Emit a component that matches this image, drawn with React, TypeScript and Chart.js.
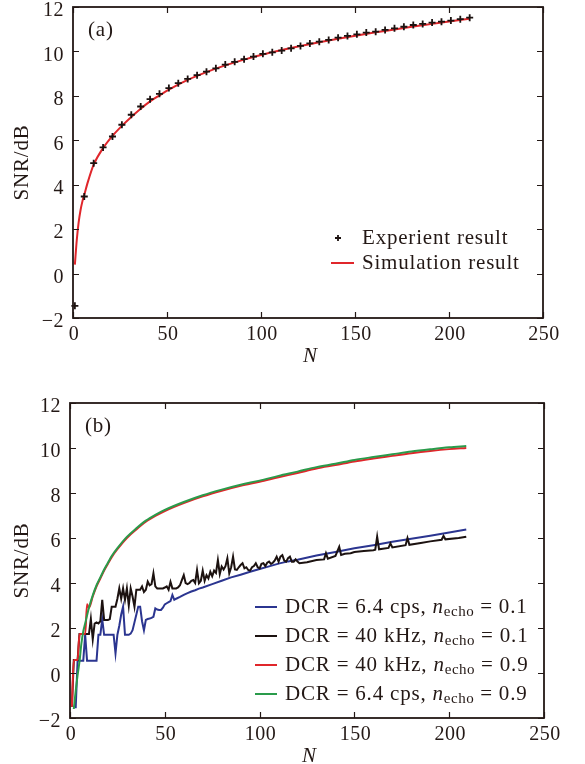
import React, { useEffect, useRef } from "react";
import { Chart, registerables } from "chart.js";
Chart.register(...registerables);

const FONT = '"Liberation Serif", "Times New Roman", serif';
const INK = "#231815";
const RED = "#e0262b";
const BLUE = "#2b3590";
const BLACK = "#1c1210";
const GREEN = "#2a9b4b";

// ---------- panel (a) ----------
const expN = [1, 6, 11, 16, 21, 26, 31, 36, 41, 46, 51, 56, 61, 66, 71, 76, 81, 86, 91, 96, 101, 106, 111, 116, 121, 126, 131, 136, 141, 146, 151, 156, 161, 166, 171, 176, 181, 186, 191, 196, 201, 206, 211];
const expSNR = [-1.45, 3.47, 4.97, 5.68, 6.17, 6.7, 7.15, 7.52, 7.85, 8.09, 8.35, 8.57, 8.76, 8.93, 9.09, 9.24, 9.41, 9.53, 9.65, 9.77, 9.89, 9.96, 10.04, 10.14, 10.25, 10.36, 10.44, 10.52, 10.62, 10.7, 10.77, 10.85, 10.89, 10.97, 11.04, 11.11, 11.19, 11.24, 11.3, 11.34, 11.39, 11.45, 11.52];
const simN = [1, 2, 3, 4, 5, 6, 8, 11, 16, 21, 26, 31, 36, 41, 46, 51, 61, 71, 81, 91, 101, 111, 121, 131, 141, 151, 161, 171, 181, 191, 201, 211];
const simSNR = [0.4, 1.5, 2.3, 2.85, 3.25, 3.55, 4.15, 4.9, 5.65, 6.2, 6.65, 7.05, 7.42, 7.75, 8.02, 8.28, 8.72, 9.07, 9.37, 9.63, 9.86, 10.06, 10.24, 10.41, 10.57, 10.72, 10.86, 10.99, 11.12, 11.24, 11.36, 11.47];

// ---------- panel (b) ----------
const blueN = [3, 4, 5, 6, 7, 8, 9, 10, 11, 12, 13, 14, 15, 16, 17, 18, 19, 20, 21, 22, 23, 24, 25, 26, 27, 28, 29, 30, 31, 32, 33, 34, 35, 36, 37, 38, 39, 40, 41, 42, 43, 44, 45, 46, 47, 48, 49, 50, 51, 52, 53, 54, 55, 56, 58, 60, 62, 64, 66, 68, 70, 75, 80, 85, 90, 95, 100, 105, 110, 115, 120, 130, 140, 150, 160, 170, 180, 190, 200, 209];
const blueSNR = [-1.57, 0.55, 0.55, 0.55, 0.55, 1.7, 0.55, 0.55, 0.55, 0.55, 0.55, 0.55, 1.7, 1.7, 2.4, 1.7, 1.7, 1.7, 1.7, 1.7, 1.7, 0.87, 1.7, 2.1, 2.6, 2.95, 1.7, 1.7, 1.7, 1.75, 1.9, 2.25, 2.6, 2.95, 2.95, 2.3, 1.9, 2.36, 2.4, 2.42, 2.45, 2.5, 2.87, 2.82, 2.8, 2.8, 2.9, 3.05, 3.1, 3.15, 3.2, 3.47, 3.25, 3.3, 3.38, 3.47, 3.55, 3.62, 3.68, 3.75, 3.8, 3.95, 4.1, 4.25, 4.37, 4.5, 4.62, 4.74, 4.86, 4.96, 5.03, 5.22, 5.38, 5.54, 5.68, 5.83, 5.97, 6.1, 6.24, 6.38];

const blackN = [1, 2, 3, 4, 5, 6, 7, 8, 9, 10, 11, 12, 13, 14, 15, 16, 17, 18, 19, 20, 21, 22, 23, 24, 25, 26, 27, 28, 29, 30, 31, 32, 33, 34, 35, 36, 37, 38, 39, 40, 41, 42, 43, 44, 45, 46, 47, 48, 49, 50, 51, 52, 53, 54, 55, 56, 57, 58, 59, 60, 61, 62, 63, 64, 65, 66, 67, 68, 69, 70, 71, 72, 73, 74, 75, 76, 77, 78, 79, 80, 81, 82, 83, 84, 85, 86, 87, 88, 89, 90, 91, 92, 93, 94, 95, 96, 97, 98, 99, 100, 101, 102, 103, 104, 105, 106, 107, 108, 109, 110, 111, 112, 113, 114, 115, 116, 117, 118, 119, 120, 121, 125, 130, 134, 135, 136, 140, 142, 143, 145, 148, 150, 155, 160, 161, 162, 163, 168, 169, 170, 177, 178, 179, 185, 190, 196, 197, 198, 205, 209];
const blackSNR = [-1.5, 0.58, 0.58, 0.58, 1.73, 1.73, 1.73, 1.73, 1.73, 1.73, 2.4, 1.5, 2.2, 2.25, 2.2, 2.3, 3.25, 2.36, 2.36, 2.36, 2.4, 2.95, 2.95, 2.95, 3.3, 3.76, 3.3, 3.76, 3.25, 3.76, 3.0, 3.76, 3.4, 2.95, 3.7, 3.7, 3.7, 3.85, 3.6, 3.7, 4.06, 3.9, 3.95, 4.43, 3.85, 3.76, 3.76, 3.76, 3.76, 3.8, 3.85, 3.7, 4.05, 3.76, 3.76, 3.76, 3.8, 3.9, 4.13, 4.35, 4.0, 3.95, 4.0, 4.1, 4.13, 4.0, 4.58, 3.99, 4.1, 4.55, 4.1, 4.35, 4.2, 4.5, 4.3, 4.55, 4.45, 5.02, 4.4, 4.73, 4.6, 4.75, 5.1, 4.43, 4.7, 5.17, 4.6, 4.58, 4.7, 4.8, 4.88, 4.65, 4.7, 4.58, 4.55, 4.7, 4.75, 4.88, 4.7, 4.65, 4.85, 4.88, 4.75, 4.9, 4.95, 4.85, 4.9, 5.0, 5.17, 4.95, 5.17, 5.24, 5.0, 4.95, 5.1, 5.17, 4.95, 4.95, 5.05, 4.95, 4.88, 4.92, 5.02, 5.05, 5.32, 5.08, 5.2, 5.61, 5.25, 5.3, 5.32, 5.38, 5.42, 5.46, 5.48, 6.06, 5.5, 5.56, 5.76, 5.58, 5.68, 6.0, 5.7, 5.78, 5.85, 5.92, 6.09, 5.94, 6.0, 6.06];

const redN = [1, 2, 3, 4, 5, 6, 7, 8, 9, 10, 12, 14, 16, 18, 20, 22, 25, 30, 35, 40, 45, 50, 60, 70, 80, 90, 100, 110, 120, 130, 140, 150, 160, 170, 180, 190, 200, 209];
const redSNR = [-1.5, 0.58, 0.58, 0.58, 1.73, 1.73, 1.73, 1.73, 3.05, 2.9, 3.4, 3.85, 4.2, 4.55, 4.85, 5.15, 5.5, 6.0, 6.38, 6.72, 6.98, 7.2, 7.55, 7.85, 8.1, 8.32, 8.5, 8.7, 8.89, 9.09, 9.24, 9.4, 9.53, 9.65, 9.77, 9.87, 9.95, 10.0];

const greenN = [2, 3, 4, 5, 6, 7, 8, 10, 12, 14, 16, 18, 20, 22, 25, 30, 35, 40, 45, 50, 60, 70, 80, 90, 100, 110, 120, 130, 140, 150, 160, 170, 180, 190, 200, 209];
const greenSNR = [-1.6, -0.8, -0.1, 0.5, 1.3, 1.85, 2.2, 2.9, 3.45, 3.9, 4.25, 4.6, 4.9, 5.2, 5.55, 6.05, 6.43, 6.77, 7.03, 7.25, 7.6, 7.9, 8.15, 8.37, 8.55, 8.76, 8.95, 9.15, 9.3, 9.47, 9.6, 9.72, 9.84, 9.94, 10.03, 10.09];

const xTicks = [0, 50, 100, 150, 200, 250];
const yTicks = [-2, 0, 2, 4, 6, 8, 10, 12];

const pts = (xs: number[], ys: number[]) => xs.map((x, i) => ({ x, y: ys[i] }));
const fmt = (v: number) => (v < 0 ? "\u2212" + Math.abs(v) : String(v));

function setFont(ctx: any, spec: string, spacing: string) {
  ctx.font = spec;
  try {
    ctx.letterSpacing = spacing;
  } catch (e) {
    /* ignore */
  }
}

function drawFrame(chart: any, panel: string) {
  const ctx = chart.ctx;
  const { left, right, top, bottom } = chart.chartArea;
  const xs = chart.scales.x;
  const ys = chart.scales.y;
  ctx.save();
  ctx.strokeStyle = INK;
  ctx.lineWidth = 1.2;
  ctx.beginPath();
  xTicks.forEach((v) => {
    const p = Math.round(xs.getPixelForValue(v)) + 0.5;
    ctx.moveTo(p, bottom);
    ctx.lineTo(p, bottom - 6);
    ctx.moveTo(p, top);
    ctx.lineTo(p, top + 6);
  });
  yTicks.forEach((v) => {
    const p = Math.round(ys.getPixelForValue(v)) + 0.5;
    ctx.moveTo(left, p);
    ctx.lineTo(left + 6, p);
    ctx.moveTo(right, p);
    ctx.lineTo(right - 6, p);
  });
  ctx.stroke();
  ctx.lineWidth = 1.8;
  ctx.strokeRect(left, top, right - left, bottom - top);

  ctx.fillStyle = INK;
  setFont(ctx, `20px ${FONT}`, "0.5px");
  ctx.textAlign = "center";
  ctx.textBaseline = "middle";
  xTicks.forEach((v) => ctx.fillText(fmt(v), xs.getPixelForValue(v) + 1, bottom + 17));
  ctx.textAlign = "right";
  yTicks.forEach((v) => ctx.fillText(fmt(v), left - 9, ys.getPixelForValue(v) + 4));

  setFont(ctx, `italic 21px ${FONT}`, "0px");
  ctx.textAlign = "center";
  ctx.fillText("N", (left + right) / 2 + 2, bottom + 38);

  setFont(ctx, `21px ${FONT}`, "0.8px");
  ctx.save();
  ctx.translate(22, (top + bottom) / 2);
  ctx.rotate(-Math.PI / 2);
  ctx.fillText("SNR/dB", 0, 0);
  ctx.restore();

  ctx.textAlign = "left";
  ctx.fillText(panel, left + 15, top + 23);
  ctx.restore();
}

function richText(ctx: any, x: number, y: number, parts: [string, string][]) {
  let cx = x;
  parts.forEach(([t, s]) => {
    let dy = 0;
    if (s === "it") setFont(ctx, `italic 21px ${FONT}`, "0.8px");
    else if (s === "sub") {
      setFont(ctx, `15px ${FONT}`, "0.5px");
      dy = 5;
    } else setFont(ctx, `21px ${FONT}`, "0.8px");
    ctx.fillText(t, cx, y + dy);
    cx += ctx.measureText(t).width;
  });
}

const frameA = {
  id: "frameA",
  afterDraw(chart: any) {
    drawFrame(chart, "(a)");
    const ctx = chart.ctx;
    const { right, bottom } = chart.chartArea;
    ctx.save();
    const mx = right - 205;
    const y1 = bottom - 80;
    const y2 = bottom - 55;
    ctx.strokeStyle = BLACK;
    ctx.lineWidth = 1.8;
    ctx.beginPath();
    ctx.moveTo(mx - 3, y1);
    ctx.lineTo(mx + 3, y1);
    ctx.moveTo(mx, y1 - 3);
    ctx.lineTo(mx, y1 + 3);
    ctx.stroke();
    ctx.strokeStyle = RED;
    ctx.lineWidth = 2;
    ctx.beginPath();
    ctx.moveTo(mx - 7, y2);
    ctx.lineTo(mx + 16, y2);
    ctx.stroke();
    ctx.fillStyle = INK;
    setFont(ctx, `21px ${FONT}`, "0.8px");
    ctx.textAlign = "left";
    ctx.textBaseline = "middle";
    ctx.fillText("Experient result", mx + 24, y1);
    ctx.fillText("Simulation result", mx + 24, y2);
    ctx.restore();
  },
};

const legendB: [string, string, string][] = [
  [BLUE, "DCR = 6.4 cps, ", "0.1"],
  [BLACK, "DCR = 40 kHz, ", "0.1"],
  [RED, "DCR = 40 kHz, ", "0.9"],
  [GREEN, "DCR = 6.4 cps, ", "0.9"],
];

const frameB = {
  id: "frameB",
  afterDraw(chart: any) {
    drawFrame(chart, "(b)");
    const ctx = chart.ctx;
    const { left } = chart.chartArea;
    ctx.save();
    ctx.textAlign = "left";
    ctx.textBaseline = "middle";
    legendB.forEach(([c, t, v], i) => {
      const y = 227 + i * 29;
      ctx.strokeStyle = c;
      ctx.lineWidth = 2;
      ctx.beginPath();
      ctx.moveTo(left + 185, y);
      ctx.lineTo(left + 207, y);
      ctx.stroke();
      ctx.fillStyle = INK;
      richText(ctx, left + 215, y, [
        [t, "rm"],
        ["n", "it"],
        ["echo", "sub"],
        [" = " + v, "rm"],
      ]);
    });
    ctx.restore();
  },
};

function baseOptions(xh: number, yw: number, padTop: number, padRight: number) {
  return {
    responsive: false,
    animation: false as const,
    devicePixelRatio: 1,
    events: [] as any[],
    layout: { padding: { top: padTop, right: padRight, bottom: 0, left: 0 } },
    plugins: { legend: { display: false }, tooltip: { enabled: false } },
    scales: {
      x: {
        type: "linear" as const,
        min: 0,
        max: 250,
        ticks: { stepSize: 50, display: false },
        grid: { display: false },
        border: { display: false },
        afterFit: (s: any) => {
          s.height = xh;
        },
      },
      y: {
        type: "linear" as const,
        min: -2,
        max: 12,
        ticks: { stepSize: 2, display: false },
        grid: { display: false },
        border: { display: false },
        afterFit: (s: any) => {
          s.width = yw;
        },
      },
    },
  };
}

export default function App() {
  const refA = useRef<HTMLCanvasElement>(null);
  const refB = useRef<HTMLCanvasElement>(null);
  useEffect(() => {
    const a = new Chart(refA.current as HTMLCanvasElement, {
      type: "line",
      data: {
        datasets: [
          {
            label: "Experient result",
            data: pts(expN, expSNR),
            showLine: false,
            pointStyle: "cross",
            pointRadius: 3.5,
            pointBorderWidth: 1.8,
            borderColor: BLACK,
            backgroundColor: BLACK,
            clip: 8,
          } as any,
          {
            label: "Simulation result",
            data: pts(simN, simSNR),
            borderColor: RED,
            borderWidth: 2,
            pointRadius: 0,
            cubicInterpolationMode: "monotone",
          },
        ],
      },
      options: baseOptions(57, 73, 7, 42) as any,
      plugins: [frameA],
    });
    const lineDs = (label: string, xs: number[], ys: number[], color: string, order: number, smooth: boolean) => ({
      label,
      data: pts(xs, ys),
      borderColor: color,
      backgroundColor: color,
      borderWidth: 2,
      pointRadius: 0,
      order,
      clip: 4,
      ...(smooth ? { cubicInterpolationMode: "monotone" } : { tension: 0 }),
    });
    const b = new Chart(refB.current as HTMLCanvasElement, {
      type: "line",
      data: {
        datasets: [
          lineDs("DCR = 6.4 cps, n_echo = 0.1", blueN, blueSNR, BLUE, 3, false),
          lineDs("DCR = 40 kHz, n_echo = 0.1", blackN, blackSNR, BLACK, 2, false),
          lineDs("DCR = 40 kHz, n_echo = 0.9", redN, redSNR, RED, 1, true),
          lineDs("DCR = 6.4 cps, n_echo = 0.9", greenN, greenSNR, GREEN, 0, true),
        ] as any,
      },
      options: baseOptions(46, 70, 23, 41) as any,
      plugins: [frameB],
    });
    return () => {
      a.destroy();
      b.destroy();
    };
  }, []);
  return (
    <div style={{ position: "absolute", left: 0, top: 0, width: 585, height: 764, background: "#fff" }}>
      <canvas ref={refA} width={585} height={375} style={{ position: "absolute", left: 0, top: 0 }} />
      <canvas ref={refB} width={585} height={384} style={{ position: "absolute", left: 0, top: 380 }} />
    </div>
  );
}
